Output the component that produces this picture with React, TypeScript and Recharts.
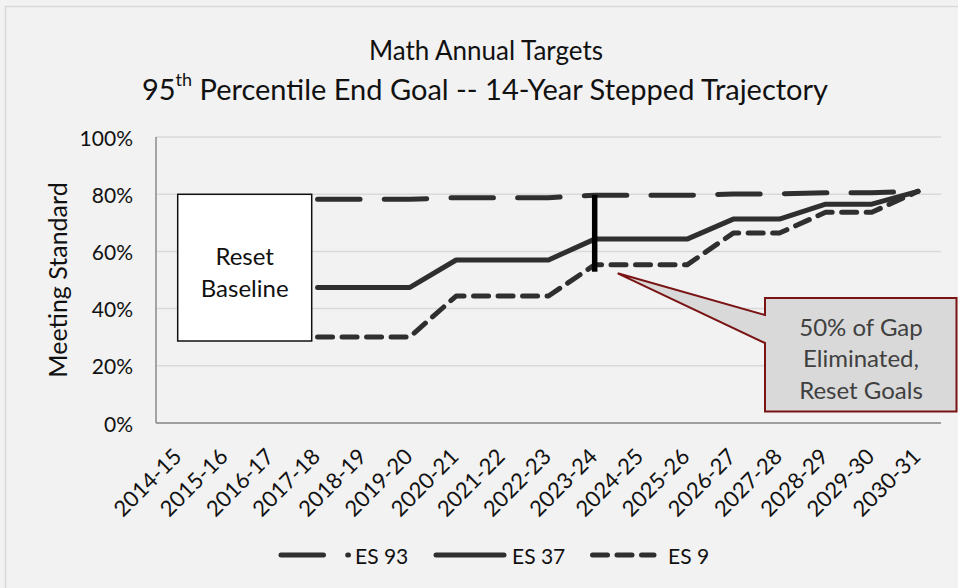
import React from 'react';
import { LineChart, Line, XAxis, YAxis, CartesianGrid, ReferenceLine } from 'recharts';

const categories = ['2014-15','2015-16','2016-17','2017-18','2018-19','2019-20','2020-21','2021-22','2022-23','2023-24','2024-25','2025-26','2026-27','2027-28','2028-29','2029-30','2030-31'];
const es93 = [null, null, null, 78.2, 78.2, 78.2, 78.8, 78.8, 78.8, 79.6, 79.6, 79.6, 80.1, 80.1, 80.5, 80.5, 81];
const es37 = [null, null, null, 47.4, 47.4, 47.4, 57, 57, 57, 64.3, 64.3, 64.3, 71.3, 71.3, 76.5, 76.5, 81];
const es9 = [null, null, null, 30.1, 30.1, 30.1, 44.4, 44.4, 44.4, 55.3, 55.3, 55.3, 66.4, 66.4, 73.7, 73.7, 81];
const yTicks = [0, 20, 40, 60, 80, 100];
const seriesNames = ['ES 93', 'ES 37', 'ES 9'];
const gapCategory = '2023-24';
const gapTop = 79.8;
const gapBottom = 52.9;

const data = categories.map((c, i) => ({ cat: c, es93: es93[i], es37: es37[i], es9: es9[i] }));

const FONT = 'Lato, "Open Sans", sans-serif';
const LINE = '#2f2f2f';

const XTick = (props: any) => {
  const { x, y, payload } = props;
  return (
    <text transform={`translate(${x + 4},${y + 35}) rotate(-45)`} textAnchor="end" fontSize={22} fontFamily={FONT} fill="#111">
      {payload.value}
    </text>
  );
};

const YTick = (props: any) => {
  const { x, y, payload } = props;
  return (
    <text x={x - 23} y={y} textAnchor="end" dominantBaseline="central" fontSize={21} fontFamily={FONT} fill="#111">
      {payload.value}%
    </text>
  );
};

export default function App() {
  return (
    <div style={{ position: 'absolute', left: 0, top: 0, width: 958, height: 588, background: '#f2f2f2', fontFamily: FONT }}>
      <LineChart width={958} height={588} data={data} margin={{ top: 137, right: 17, bottom: 135, left: 0 }}>
        <CartesianGrid vertical={false} stroke="#d9d9d9" strokeWidth={1.5} />
        <XAxis dataKey="cat" height={30} tickLine={false} tickSize={0} tickMargin={0} interval={0}
          stroke="#8a8a8a" strokeWidth={1.5} tick={<XTick />} padding={{ left: 23, right: 23 }} />
        <YAxis width={156} domain={[0, 100]} ticks={yTicks} tickLine={false} tickSize={0} tickMargin={0}
          stroke="#8a8a8a" strokeWidth={1.5} tick={<YTick />} allowDataOverflow />
        <Line dataKey="es93" name={seriesNames[0]} stroke={LINE} strokeWidth={5} strokeDasharray="42.5 24.2"
          strokeLinecap="round" strokeLinejoin="round" dot={false} activeDot={false} isAnimationActive={false} />
        <Line dataKey="es37" name={seriesNames[1]} stroke={LINE} strokeWidth={5}
          strokeLinecap="round" strokeLinejoin="round" dot={false} activeDot={false} isAnimationActive={false} />
        <Line dataKey="es9" name={seriesNames[2]} stroke={LINE} strokeWidth={5} strokeDasharray="15 9.5"
          strokeLinecap="round" strokeLinejoin="round" dot={false} activeDot={false} isAnimationActive={false} />
        <ReferenceLine segment={[{ x: gapCategory, y: gapBottom }, { x: gapCategory, y: gapTop }]} stroke="#000" strokeWidth={5.5} />
      </LineChart>
      <svg width={958} height={588} style={{ position: 'absolute', left: 0, top: 0, pointerEvents: 'none' }} fontFamily={FONT}>
        <rect x={5.5} y={6.5} width={960} height={600} fill="none" stroke="#d9d9d9" strokeWidth={1.5} />
        <text x={486} y={50} textAnchor="middle" dominantBaseline="central" fontSize={26} fill="#111">Math Annual Targets</text>
        <text x={485} y={88} textAnchor="middle" dominantBaseline="central" fontSize={29} fill="#111">
          95<tspan dy={-9} fontSize={18}>th</tspan><tspan dy={9}> Percentile End Goal -- 14-Year Stepped Trajectory</tspan>
        </text>
        <text transform="translate(57,280) rotate(-90)" textAnchor="middle" dominantBaseline="central" fontSize={25} fill="#111">Meeting Standard</text>
        {/* Reset Baseline box */}
        <rect x={177.7} y={194.3} width={134} height={146.7} fill="#fff" stroke="#111" strokeWidth={1.5} />
        <text x={244.7} y={255} textAnchor="middle" dominantBaseline="central" fontSize={24} fill="#111">Reset</text>
        <text x={244.7} y={287} textAnchor="middle" dominantBaseline="central" fontSize={24} fill="#111">Baseline</text>
        {/* Callout */}
        <path d="M765,298 L956.5,298 L956.5,411.5 L765,411.5 L765,343 L617.7,273.3 L765,315 Z" fill="#d9d9d9" stroke="#7a1414" strokeWidth={2} strokeLinejoin="miter" />
        <text x={861} y={326} textAnchor="middle" dominantBaseline="central" fontSize={24} fill="#404040">50% of Gap</text>
        <text x={861} y={357.5} textAnchor="middle" dominantBaseline="central" fontSize={24} fill="#404040">Eliminated,</text>
        <text x={861} y={389} textAnchor="middle" dominantBaseline="central" fontSize={24} fill="#404040">Reset Goals</text>
        {/* Legend */}
        <line x1={281} y1={555} x2={348.5} y2={555} stroke={LINE} strokeWidth={5} strokeDasharray="42.5 24.2" strokeLinecap="round" />
        <text x={355} y={555} dominantBaseline="central" fontSize={21} fill="#111">{seriesNames[0]}</text>
        <line x1={436} y1={555} x2={504} y2={555} stroke={LINE} strokeWidth={5} strokeLinecap="round" />
        <text x={512} y={555} dominantBaseline="central" fontSize={21} fill="#111">{seriesNames[1]}</text>
        <line x1={592.5} y1={555} x2={654} y2={555} stroke={LINE} strokeWidth={5} strokeDasharray="15 9.5" strokeLinecap="round" />
        <text x={668} y={555} dominantBaseline="central" fontSize={21} fill="#111">{seriesNames[2]}</text>
      </svg>
    </div>
  );
}
